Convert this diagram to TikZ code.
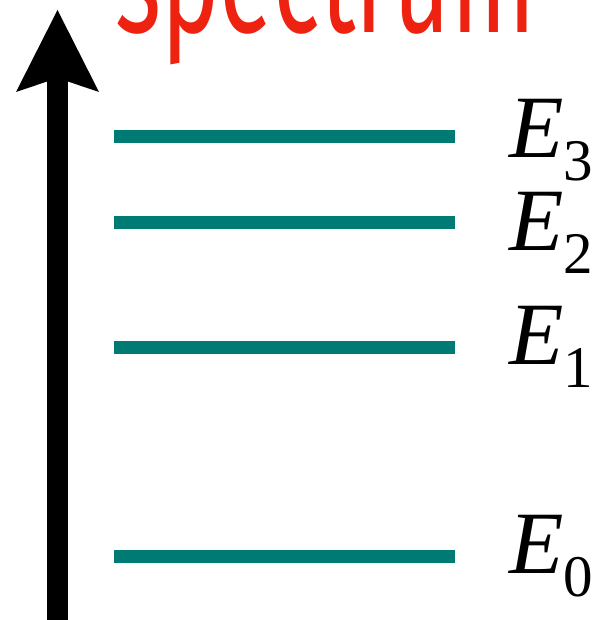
\documentclass[tikz,border=0pt]{standalone}
\usepackage{fontspec}
\setmainfont{Liberation Serif}
\newfontfamily\handfont{Fira Sans}
\usetikzlibrary{arrows.meta}
\definecolor{levelteal}{RGB}{0,123,116}
\definecolor{specred}{RGB}{238,34,16}
\tikzset{
  level/.style={draw=levelteal, line width=13pt},
  elabel/.style={anchor=base west, inner sep=0pt, outer sep=0pt},
  axisarrow/.style={line width=21pt, -{Stealth[length=82pt,width=83pt,inset=14pt,line width=0pt]}}
}
\newcommand{\lvl}[1]{{\fontsize{89}{89}\selectfont\itshape E}\raisebox{-23pt}{\fontsize{59}{59}\selectfont #1}}
\begin{document}
\begin{tikzpicture}[x=1pt,y=-1pt]
\useasboundingbox (0,0) rectangle (600,620);
% axis
\coordinate (axbot) at (57.5,625);
\coordinate (axtop) at (57.5,10);
\draw[axisarrow] (axbot) -- (axtop);
% title
\node[anchor=base west, inner sep=0pt, text=specred] (title) at (115,33)
  {\resizebox{420pt}{100pt}{\handfont spectrum}};
% levels
\foreach \n/\y/\b in {0/556/573, 1/347/364, 2/222/250, 3/137/158} {
  \coordinate (l\n a) at (114,\y);
  \coordinate (l\n b) at (455,\y);
  \draw[level] (l\n a) -- (l\n b);
  \node[elabel] (e\n) at (509,\b) {\lvl{\n}};
}
\end{tikzpicture}
\end{document}
